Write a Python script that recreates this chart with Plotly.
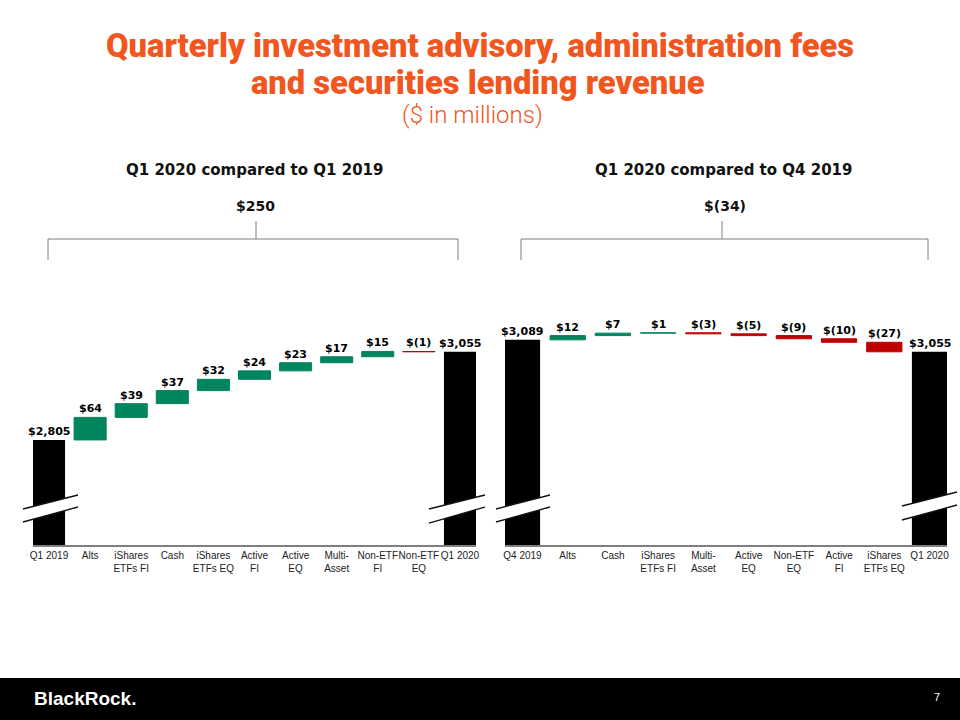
import plotly.graph_objects as go

# ---------------- data ----------------
left_categories = ["Q1 2019", "Alts", "iShares<br>ETFs FI", "Cash", "iShares<br>ETFs EQ",
                   "Active<br>FI", "Active<br>EQ", "Multi-<br>Asset", "Non-ETF<br>FI",
                   "Non-ETF<br>EQ", "Q1 2020"]
left_values = [2805, 64, 39, 37, 32, 24, 23, 17, 15, -1, 3055]

right_categories = ["Q4 2019", "Alts", "Cash", "iShares<br>ETFs FI", "Multi-<br>Asset",
                    "Active<br>EQ", "Non-ETF<br>EQ", "Active<br>FI", "iShares<br>ETFs EQ",
                    "Q1 2020"]
right_values = [3089, 12, 7, 1, -3, -5, -9, -10, -27, 3055]

left_header = "Q1 2020 compared to Q1 2019"
right_header = "Q1 2020 compared to Q4 2019"

# ---------------- style ----------------
GREEN = "#00855E"
RED = "#C00000"
BLACK = "#000000"
ORANGE = "#F0561E"
GRAY = "#7F7F7F"
W, H = 960, 720


def px(x):
    return x / W


def py(y):
    return 1 - y / H


def fmt(v):
    return "${:,}".format(v) if v >= 0 else "$({:,})".format(-v)


Y_RANGE = [2507, 3202]
Y_DOMAIN = [py(545), py(300)]

fig = go.Figure()


def add_waterfall(cats, vals, xa, ya):
    n = len(cats)
    measures = ["absolute"] + ["relative"] * (n - 2) + ["total"]
    fig.add_trace(go.Waterfall(
        x=cats, y=vals, measure=measures,
        xaxis=xa, yaxis=ya,
        width=[0.78] * n,
        increasing=dict(marker=dict(color=GREEN, line=dict(color=GREEN, width=1))),
        decreasing=dict(marker=dict(color=RED, line=dict(color=RED, width=1))),
        totals=dict(marker=dict(color=BLACK, line=dict(color=BLACK, width=0))),
        connector=dict(visible=False),
        showlegend=False, hoverinfo="skip",
    ))
    run = 0
    anns = []
    for i, v in enumerate(vals):
        if i == 0:
            top = v
            run = v
        elif i == n - 1:
            top = run
            v = run
        else:
            top = max(run, run + v)
            run += v
        anns.append(dict(x=i, y=top, xref=xa, yref=ya,
                         text="<b>" + fmt(v) + "</b>", showarrow=False,
                         xanchor="center", yanchor="bottom", yshift=0,
                         font=dict(family="DejaVu Sans", size=11, color="#000")))
    return anns, vals[0], run


annL, startL, endL = add_waterfall(left_categories, left_values, "x", "y")
annR, startR, endR = add_waterfall(right_categories, right_values, "x2", "y2")

axis_common = dict(type="category", showline=True, linecolor=GRAY, linewidth=2,
                   ticks="", showgrid=False, zeroline=False, fixedrange=True,
                   tickangle=0, automargin=False,
                   tickfont=dict(family="Liberation Sans", size=10, color="#222"))
yaxis_common = dict(range=Y_RANGE, domain=Y_DOMAIN, visible=False, fixedrange=True)

fig.update_layout(
    width=W, height=H,
    margin=dict(l=0, r=0, t=0, b=0, autoexpand=False),
    paper_bgcolor="white", plot_bgcolor="white",
    showlegend=False,
    xaxis=dict(domain=[px(33), px(476)], range=[-0.39, len(left_categories) - 1 + 0.39],
               anchor="y", **axis_common),
    yaxis=dict(anchor="x", **yaxis_common),
    xaxis2=dict(domain=[px(505), px(947)], range=[-0.386, len(right_categories) - 1 + 0.386],
                anchor="y2", **axis_common),
    yaxis2=dict(anchor="x2", **yaxis_common),
)

annotations = annL + annR


def pann(x, y, text, font, xanchor="center"):
    return dict(x=px(x), y=py(y), xref="paper", yref="paper", showarrow=False,
                xanchor=xanchor, yanchor="middle", text=text, font=font)


# titles
annotations += [
    pann(480, 46, "Quarterly investment advisory, administration fees",
         dict(family="Roboto", size=32.7, color=ORANGE, weight=900)),
    pann(478, 83, "and securities lending revenue",
         dict(family="Roboto", size=32.7, color=ORANGE, weight=900)),
    pann(472, 115, "($ in millions)",
         dict(family="Roboto", size=24, color=ORANGE, weight=300)),
]

# headers
annotations += [
    pann(254, 170, "<b>" + left_header + "</b>", dict(family="DejaVu Sans", size=15, color="#111")),
    pann(255, 206, "<b>" + fmt(endL - startL) + "</b>", dict(family="DejaVu Sans", size=14, color="#111")),
    pann(723, 170, "<b>" + right_header + "</b>", dict(family="DejaVu Sans", size=15, color="#111")),
    pann(725, 206, "<b>" + fmt(endR - startR) + "</b>", dict(family="DejaVu Sans", size=14, color="#111")),
]

# footer text
annotations += [
    pann(32, 698, "<b>BlackRock.</b>", dict(family="Liberation Sans", size=19, color="white"),
         xanchor="left"),
    pann(937, 697, "7", dict(family="Liberation Sans", size=11, color="white")),
]

shapes = []
shapes.append(dict(type="rect", xref="paper", yref="paper", x0=0, x1=1, y0=0, y1=py(678),
                   fillcolor="black", line=dict(width=0), layer="below"))

for xl, xr, xc in [(48, 458, 256), (521, 928, 722)]:
    line = dict(color=GRAY, width=1)
    shapes.append(dict(type="line", xref="paper", yref="paper",
                       x0=px(xl), x1=px(xr), y0=py(239), y1=py(239), line=line))
    shapes.append(dict(type="line", xref="paper", yref="paper",
                       x0=px(xl), x1=px(xl), y0=py(239), y1=py(260), line=line))
    shapes.append(dict(type="line", xref="paper", yref="paper",
                       x0=px(xr), x1=px(xr), y0=py(239), y1=py(260), line=line))
    shapes.append(dict(type="line", xref="paper", yref="paper",
                       x0=px(xc), x1=px(xc), y0=py(221), y1=py(239), line=line))

breaks = [((23, 509), (78, 495), (23, 522), (78, 507)),
          ((429, 509), (485, 495), (429, 523), (485, 507)),
          ((496, 509), (550, 495), (496, 522), (550, 507)),
          ((902, 506), (957, 492), (902, 520), (957, 505))]
for (a, b, c, d) in breaks:
    path = "M {} {} L {} {} L {} {} L {} {} Z".format(
        px(a[0]), py(a[1]), px(b[0]), py(b[1]), px(d[0]), py(d[1]), px(c[0]), py(c[1]))
    shapes.append(dict(type="path", xref="paper", yref="paper", path=path,
                       fillcolor="white", line=dict(width=0), layer="above"))
    for p0, p1 in [(a, b), (c, d)]:
        shapes.append(dict(type="line", xref="paper", yref="paper",
                           x0=px(p0[0]), y0=py(p0[1]), x1=px(p1[0]), y1=py(p1[1]),
                           line=dict(color="#111", width=1.3), layer="above"))

fig.update_layout(annotations=annotations, shapes=shapes)

fig.write_html("out.html", config={"displayModeBar": False},
               post_script="document.body.style.margin='0';document.body.style.padding='0';")
